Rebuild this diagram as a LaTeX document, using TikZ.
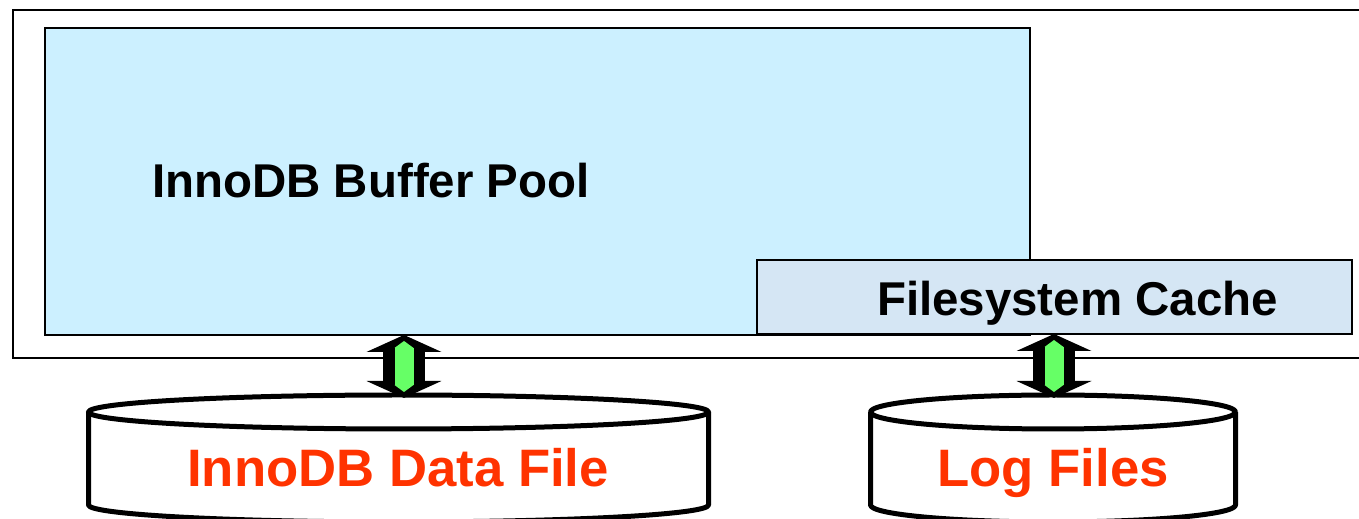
\documentclass[tikz,border=0pt]{standalone}
\usepackage{fontspec}
\setmainfont{Liberation Sans}
\usepackage{xcolor}
\usepackage{tikz}
\usetikzlibrary{shapes.geometric, arrows.meta, positioning, calc}

\definecolor{poolblue}{HTML}{CCF0FF}
\definecolor{cacheblue}{HTML}{D5E6F4}
\definecolor{diskred}{HTML}{FF3300}
\definecolor{arrowgreen}{HTML}{66FF66}

\tikzset{
  memarea/.style={draw, line width=0.8pt, inner sep=0pt, outer sep=0pt},
  disk/.style={draw, line width=0.1cm, line join=round},
  bigtext/.style={font=\fontsize{27}{32}\selectfont\bfseries},
  disktext/.style={font=\fontsize{30}{36}\selectfont\bfseries, text=diskred},
  fatarrow/.style={line width=0.84cm,
    {Triangle[width=1.5cm,length=0.34cm,line width=0pt]}-{Triangle[width=1.5cm,length=0.34cm,line width=0pt]}},
  fatcore/.style={draw=arrowgreen, line width=0.38cm, shorten <=0.12cm, shorten >=0.12cm,
    {Triangle[width=0.38cm,length=0.14cm,line width=0pt]}-{Triangle[width=0.38cm,length=0.14cm,line width=0pt]}}
}

\begin{document}
\begin{tikzpicture}[x=0.02cm, y=-0.02cm]
  \useasboundingbox (0,0) rectangle (1359,519);
  \clip (0,0) rectangle (1359,519);

  % server box
  \draw[line width=1.1pt] (13,10) rectangle (1385,358);

  \node[memarea, fill=poolblue, minimum width=19.7cm, minimum height=6.14cm] (pool) at (537.5,181.5) {};
  \node[bigtext, anchor=base west] (pooltext) at (146,198) {InnoDB Buffer Pool};

  \node[memarea, fill=cacheblue, minimum width=11.9cm, minimum height=1.48cm] (fscache) at (1054.5,297) {};
  \node[bigtext, anchor=base] (cachetext) at (1077.5,316) {Filesystem Cache};

  % disks
  \draw[disk] (398.5,412) ellipse [x radius=310, y radius=17];
  \draw[disk] (88.5,412) -- (88.5,505) arc [start angle=180, end angle=0, x radius=310, y radius=17] -- (708.5,412);
  \coordinate (datafile) at (404,395);
  \node[disktext, anchor=base] (datatext) at (398,487) {InnoDB Data File};

  \draw[disk] (1053,412) ellipse [x radius=182.5, y radius=17];
  \draw[disk] (870.5,412) -- (870.5,505) arc [start angle=180, end angle=0, x radius=182.5, y radius=17] -- (1235.5,412);
  \coordinate (logfile) at (1054,395);
  \node[disktext, anchor=base] (logtext) at (1053,487) {Log Files};

  % io arrows
  \draw[fatarrow] (pool.south -| datafile) -- ([yshift=-0.06cm]datafile);
  \draw[fatcore] (pool.south -| datafile) -- ([yshift=-0.06cm]datafile);
  \draw[fatarrow] (fscache.south -| logfile) -- ([yshift=-0.06cm]logfile);
  \draw[fatcore] (fscache.south -| logfile) -- ([yshift=-0.06cm]logfile);
\end{tikzpicture}
\end{document}
